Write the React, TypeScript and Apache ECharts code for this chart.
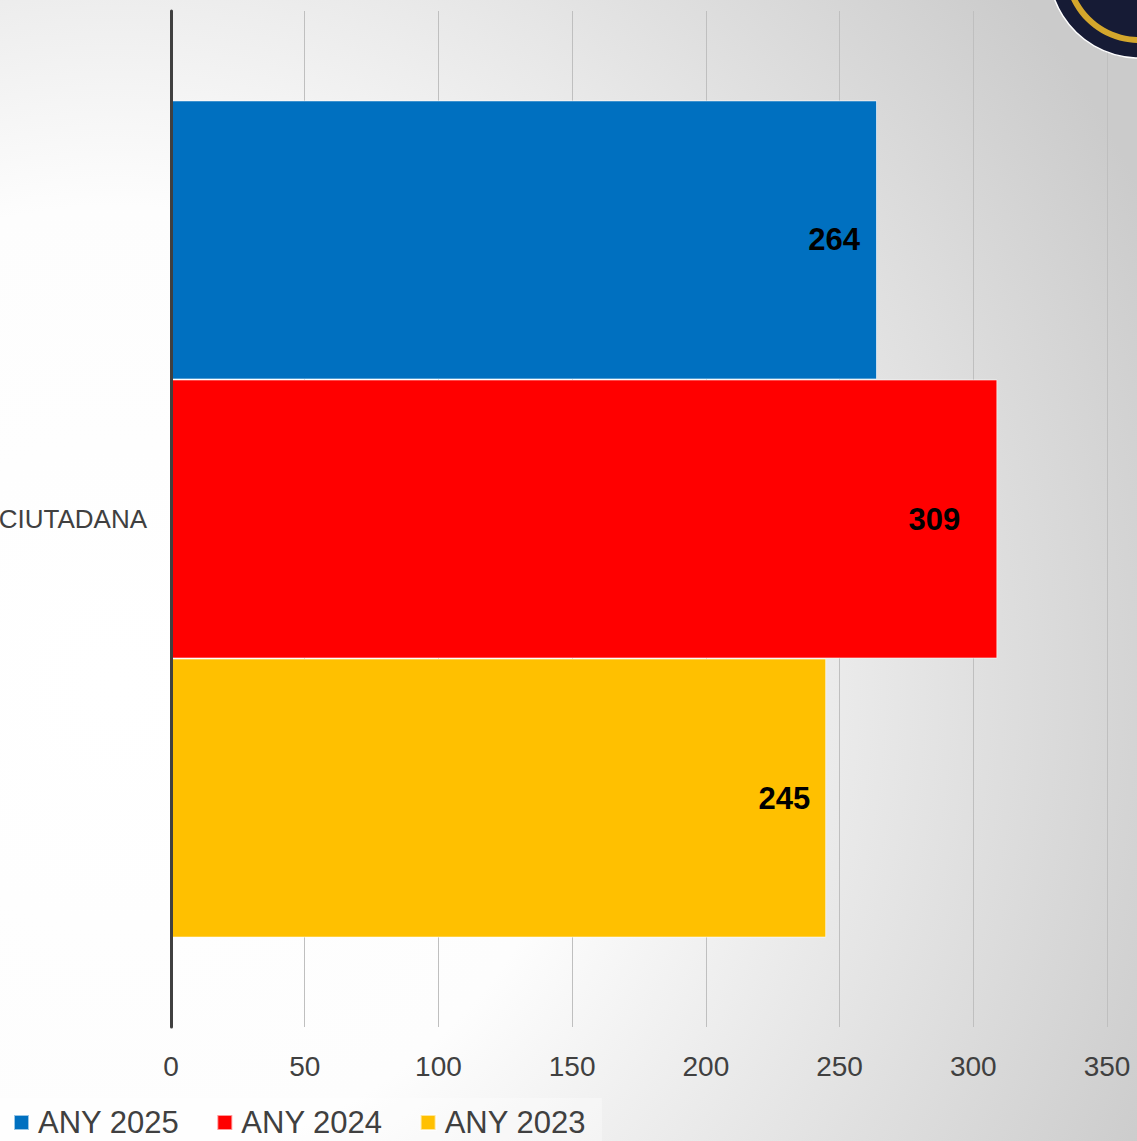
import React, { useEffect, useRef } from "react";
import * as echarts from "echarts";

const categories = ["CIUTADANA"];
const seriesNames = ["ANY 2025", "ANY 2024", "ANY 2023"];
const values2025 = [264];
const values2024 = [309];
const values2023 = [245];
const colors = ["#0070C0", "#FF0000", "#FFC000"];
const labelDistances = [17, 37, 16];

export default function App() {
  const ref = useRef<HTMLDivElement>(null);
  useEffect(() => {
    document.body.style.margin = "0";
    document.body.style.overflow = "hidden";
    if (!ref.current) return;
    const chart = echarts.init(ref.current, undefined, { renderer: "svg" });
    const dataSets = [values2025, values2024, values2023];
    chart.setOption({
      animation: false,
      grid: {
        left: 171,
        right: 30,
        top: 11,
        bottom: 114,
        containLabel: false,
        outerBoundsMode: "none",
      },
      legend: {
        data: seriesNames,
        left: 0,
        top: 1098,
        padding: [9, 16, 4, 13],
        backgroundColor: "rgba(255,255,255,0.35)",
        icon: "rect",
        itemWidth: 15,
        itemHeight: 15,
        itemGap: 37,
        textStyle: {
          fontFamily: "Liberation Sans, Arial, sans-serif",
          fontSize: 31,
          lineHeight: 30,
          color: "#404040",
          padding: [0, 0, 0, 4],
        },
      },
      xAxis: {
        type: "value",
        min: 0,
        max: 350,
        interval: 50,
        axisLine: { show: false },
        axisTick: { show: false },
        splitLine: { show: true, lineStyle: { color: "#bfbfbf", width: 1 } },
        axisLabel: {
          fontFamily: "Liberation Sans, Arial, sans-serif",
          fontSize: 28,
          color: "#404040",
          margin: 25,
        },
      },
      yAxis: {
        type: "category",
        data: categories,
        z: 5,
        axisLine: { show: true, lineStyle: { color: "#404040", width: 3 } },
        axisTick: { show: false },
        axisLabel: {
          fontFamily: "Liberation Sans, Arial, sans-serif",
          fontSize: 26,
          color: "#404040",
          margin: 24,
        },
      },
      series: seriesNames.map((name, i) => ({
        name,
        type: "bar",
        data: dataSets[i],
        barGap: "0%",
        barCategoryGap: "17.6%",
        itemStyle: {
          color: colors[i],
          borderColor: "rgba(255,255,255,0.6)",
          borderWidth: 1,
        },
        label: {
          show: true,
          position: "insideRight",
          distance: labelDistances[i],
          fontFamily: "Liberation Sans, Arial, sans-serif",
          fontWeight: "bold",
          fontSize: 31,
          color: "#000000",
        },
      })),
      graphic: [
        {
          type: "circle",
          z: 100,
          shape: { cx: 1139, cy: -32, r: 90 },
          style: { fill: "#161b35", stroke: "#ffffff", lineWidth: 1.5 },
        },
        {
          type: "ring",
          z: 101,
          shape: { cx: 1139, cy: -32, r: 75, r0: 69 },
          style: { fill: "#d4a72c" },
        },
      ],
    });
    return () => chart.dispose();
  }, []);
  return (
    <div
      ref={ref}
      style={{
        width: 1137,
        height: 1141,
        background:
          "radial-gradient(circle 1140px at 114px 685px, #ffffff 0%, #fdfdfd 42%, #cbcbcb 100%)",
      }}
    />
  );
}
